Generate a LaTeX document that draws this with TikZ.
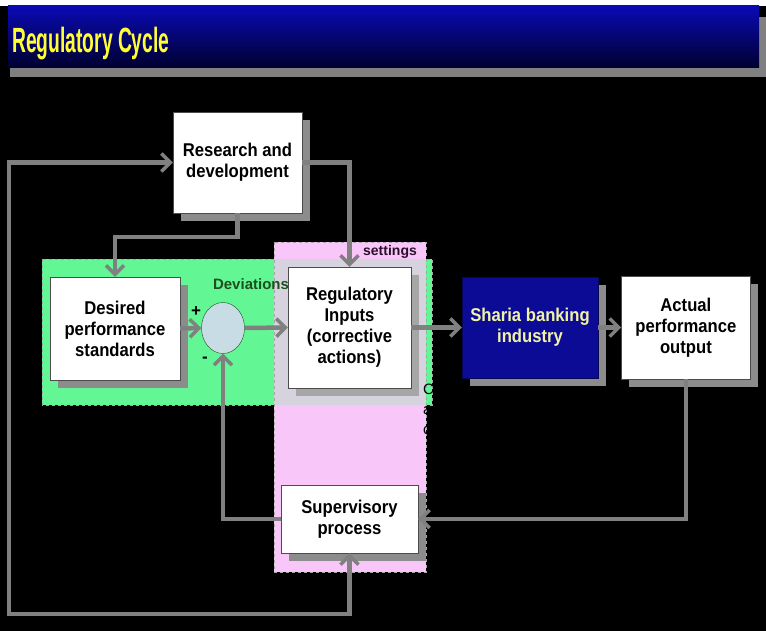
\documentclass[tikz,border=0pt]{standalone}
\usepackage{fontspec}
\setmainfont{Liberation Sans}
\newfontfamily\narrowfont[FakeStretch=0.55]{Liberation Sans}
\newfontfamily\boxfont[FakeStretch=0.9]{Liberation Sans}
\usetikzlibrary{
  arrows.meta,
  positioning,
  shapes.geometric,
  calc
}
\definecolor{rcblue}{HTML}{0B0B96}
\definecolor{rctop}{HTML}{0A0AB4}
\definecolor{rcbottom}{HTML}{00002E}
\definecolor{rcyellow}{HTML}{FFFF33}
\definecolor{rcpale}{HTML}{F2F2A6}
\definecolor{rcgray}{HTML}{808080}
\definecolor{rcshadow}{HTML}{8C8C8C}
\definecolor{rcgreen}{HTML}{62F794}
\definecolor{rcpink}{HTML}{F9C6F9}
\definecolor{rcmix}{HTML}{D6D2DE}
\definecolor{rcdarkgreen}{HTML}{1E4F1E}
\definecolor{rcplum}{HTML}{2A102A}
\definecolor{rccircle}{HTML}{C8DCE6}

\begin{document}
\begin{tikzpicture}[
      x=1pt, y=-1pt,
      block/.style={
        rectangle, draw=black!70, thin, fill=white,
        inner sep=0pt, align=center,
        font=\boxfont\bfseries\fontsize{18.5}{21}\selectfont,
        preaction={fill=rcshadow, transform canvas={shift={(8pt,-8pt)}}}
      },
      region/.style={draw=black!35, dashed, thin},
      arrow/.style={-{Straight Barb[length=9pt, width=18pt, line width=3.5pt]}, line width=4.5pt, rcgray},
      label/.style={font=\bfseries\fontsize{15}{18}\selectfont, inner sep=0pt}
    ]
      % Background and title bar
      \useasboundingbox (0,0) rectangle (766,631);
      \fill[black] (0,0) rectangle (766,631);
      \fill[white] (0,0) rectangle (766,6);
      \fill[rcgray] (10,17) rectangle (766,77);
      \shade[top color=rctop, bottom color=rcbottom] (8,6) rectangle (759,68);
      \node[anchor=west, inner sep=0pt, text=rcyellow,
        font=\narrowfont\bfseries\fontsize{35}{38}\selectfont] (title) at (12,44) {Regulatory Cycle};

      % Regions
      \fill[rcgreen] (42,259) rectangle (432,405);
      \draw[region] (42,259) rectangle (432,405);
      \fill[rcpink] (274,242) rectangle (426,572);
      \fill[rcmix] (274,259) rectangle (426,405);
      \draw[region] (274,242) rectangle (426,572);

      % Blocks
      \node[block, minimum width=129pt, minimum height=101pt] (rd) at (237.5,162.5) {Research and\\development};
      \node[block, minimum width=130pt, minimum height=103pt] (dps) at (115,328.5) {Desired\\performance\\standards};
      \node[block, minimum width=123pt, minimum height=121pt, preaction={fill=black!35, transform canvas={shift={(8pt,-8pt)}}}] (ri) at (349.5,327.5) {Regulatory\\Inputs\\(corrective\\actions)};
      \node[block, minimum width=136pt, minimum height=101pt, fill=rcblue, draw=rcblue!60!black, text=rcpale] (sb) at (530,327.5) {Sharia banking\\industry};
      \node[block, minimum width=129pt, minimum height=103pt, right=23pt of sb] (ap) {Actual\\performance\\output};
      \node[block, minimum width=137pt, minimum height=68pt] (sp) at (349.5,519) {Supervisory\\process};
      \node[ellipse, draw=rcdarkgreen, thin, fill=rccircle, minimum width=43pt, minimum height=51pt, inner sep=0pt] (dev) at (223,328) {};

      % Labels
      \node[label, text=rcdarkgreen] (devlbl) at (251,284) {Deviations};
      \node[label, text=rcplum, font=\bfseries\fontsize{14}{17}\selectfont] (setlbl) at (390,252) {settings};
      \node[label, font=\bfseries\fontsize{17}{18}\selectfont] (plus) at (196,312) {+};
      \node[label, font=\bfseries\fontsize{17}{18}\selectfont] (minus) at (205,360) {-};
      \node[label, font=\fontsize{15}{20}\selectfont, align=left, anchor=north west] (cut) at (423,384) {C\\a\\c};

      % Connectors
      \draw[arrow] (rd.south) -- ++(0,24) -| (dps.north);
      \draw[arrow] (rd.east) -| (ri.north);
      \draw[arrow] (dps.east) -- (dev.west);
      \draw[arrow] (dev.east) -- (ri.west);
      \draw[arrow] (ri.east) -- (sb.west);
      \draw[arrow] (sb.east) -- (ap.west);
      \draw[arrow] (ap.south) |- (sp.east);
      \draw[arrow] (sp.west) -| (dev.south);
      \draw[arrow, {Straight Barb[length=9pt, width=18pt, line width=3.5pt]}-{Straight Barb[length=9pt, width=18pt, line width=3.5pt]}]
        (sp.south) -- ++(0,61) -| (9,162.5) -- (rd.west);
    \end{tikzpicture}
\end{document}
